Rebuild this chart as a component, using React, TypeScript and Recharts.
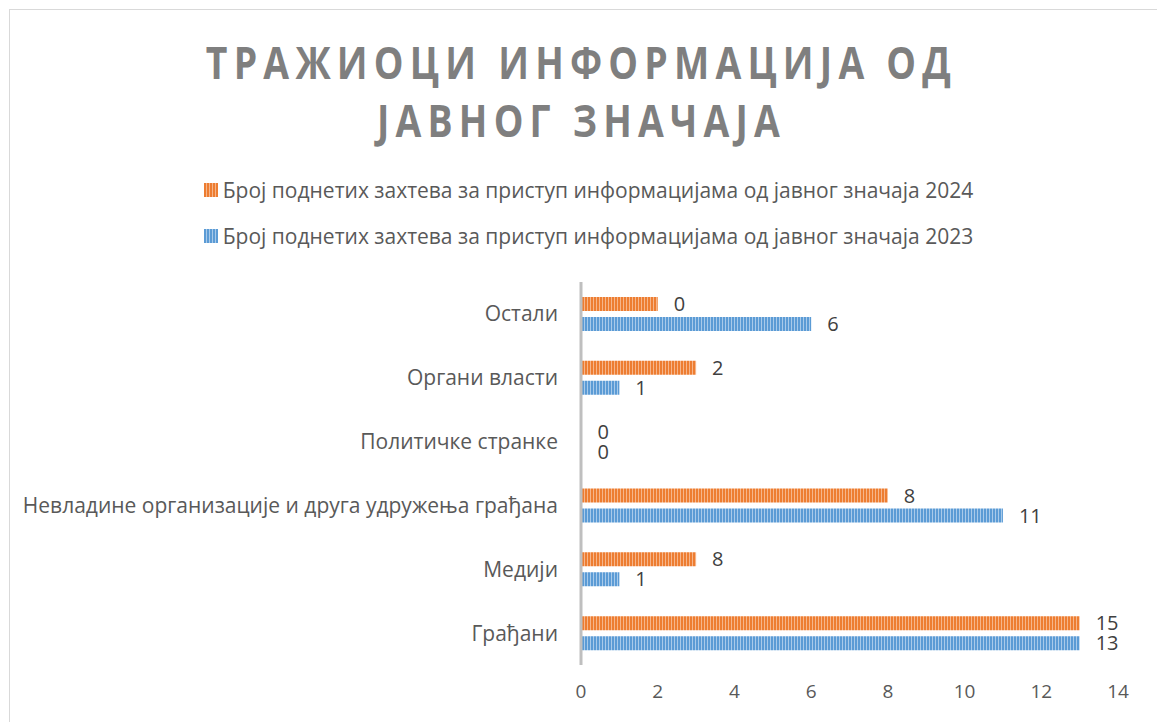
import { BarChart, Bar, XAxis, YAxis, LabelList } from 'recharts';

// categories from top to bottom, as in the picture
const categories = [
  'Остали',
  'Органи власти',
  'Политичке странке',
  'Невладине организације и друга удружења грађана',
  'Медији',
  'Грађани',
];
// bar lengths as drawn
const bars2024 = [2, 3, 0, 8, 3, 13];
const bars2023 = [6, 1, 0, 11, 1, 13];
// data labels as printed next to the bars
const labels2024 = ['0', '2', '0', '8', '8', '15'];
const labels2023 = ['6', '1', '0', '11', '1', '13'];
const xTicks = [0, 2, 4, 6, 8, 10, 12, 14];

const seriesNames = [
  'Број поднетих захтева за приступ информацијама од јавног значаја 2024',
  'Број поднетих захтева за приступ информацијама од јавног значаја 2023',
];

const FONT = '"Open Sans", sans-serif';
const ORANGE = '#ED7D31';
const ORANGE_LIGHT = '#F6B58A';
const BLUE = '#5B9BD5';
const BLUE_LIGHT = '#A8CAEA';

const chartData = categories.map((name, i) => ({
  name,
  v2024: bars2024[i],
  v2023: bars2023[i],
  l2024: labels2024[i],
  l2023: labels2023[i],
}));

function Swatch({ dark, light }: { dark: string; light: string }) {
  return (
    <svg width={14} height={14} style={{ marginRight: 5, flex: 'none' }}>
      {[0, 3, 6, 9, 12].map((x) => (
        <g key={x}>
          <rect x={x} y={0} width={3} height={14} fill={light} />
          <rect x={x} y={0} width={2} height={14} fill={dark} />
        </g>
      ))}
    </svg>
  );
}

function LegendBox() {
  const colors = [
    [ORANGE, ORANGE_LIGHT],
    [BLUE, BLUE_LIGHT],
  ];
  return (
    <div style={{ display: 'flex', flexDirection: 'column', alignItems: 'center' }}>
      {seriesNames.map((s, i) => (
        <div
          key={s}
          style={{ display: 'flex', alignItems: 'center', height: 46, fontFamily: FONT, fontSize: 21, color: '#595959' }}
        >
          <Swatch dark={colors[i][0]} light={colors[i][1]} />
          <span>{s}</span>
        </div>
      ))}
    </div>
  );
}

// title lines, squeezed a little so the letter spacing reads like the original
const titleLine = {
  paddingLeft: 7,
  transform: 'scaleX(0.85)',
  transformOrigin: '50% 50%',
};

export default function App() {
  return (
    <div style={{ position: 'absolute', left: 0, top: 0, width: 1157, height: 722, overflow: 'hidden', background: '#fff' }}>
      <div style={{ position: 'absolute', left: 9, top: 9, width: 1300, height: 900, border: '1px solid #D9D9D9' }} />
      <div
        style={{
          position: 'absolute',
          left: 0,
          top: 33,
          width: 1157,
          fontFamily: FONT,
          fontWeight: 700,
          fontSize: 44,
          lineHeight: '58px',
          letterSpacing: 7.3,
          color: '#7F7F7F',
          textAlign: 'center',
        }}
      >
        <div style={titleLine}>ТРАЖИОЦИ ИНФОРМАЦИЈА ОД</div>
        <div style={titleLine}>ЈАВНОГ ЗНАЧАЈА</div>
      </div>
      <div style={{ position: 'absolute', left: 10, top: 167, width: 1157 }}>
        <LegendBox />
      </div>
      <div style={{ position: 'absolute', left: 0, top: 0 }}>
        <BarChart
          width={1157}
          height={722}
          data={chartData}
          layout="vertical"
          margin={{ top: 282, right: 39, bottom: 17, left: 0 }}
          barSize={14}
          barGap={6}
        >
          <defs>
            <pattern id="stripe2024" width={3} height={10} patternUnits="userSpaceOnUse">
              <rect width={3} height={10} fill={ORANGE_LIGHT} />
              <rect width={2} height={10} fill={ORANGE} />
            </pattern>
            <pattern id="stripe2023" width={3} height={10} patternUnits="userSpaceOnUse">
              <rect width={3} height={10} fill={BLUE_LIGHT} />
              <rect width={2} height={10} fill={BLUE} />
            </pattern>
          </defs>
          <XAxis
            type="number"
            domain={[0, 14]}
            ticks={xTicks}
            axisLine={false}
            tickLine={false}
            tickMargin={14}
            height={40}
            tick={{ fill: '#595959', fontSize: 19, fontFamily: FONT }}
          />
          <Bar dataKey="v2024" name={seriesNames[0]} fill="url(#stripe2024)" minPointSize={0.5} isAnimationActive={false}>
            <LabelList dataKey="l2024" position="right" offset={16} fill="#404040" fontSize={20} fontFamily={FONT} />
          </Bar>
          <Bar dataKey="v2023" name={seriesNames[1]} fill="url(#stripe2023)" minPointSize={0.5} isAnimationActive={false}>
            <LabelList dataKey="l2023" position="right" offset={16} fill="#404040" fontSize={20} fontFamily={FONT} />
          </Bar>
          <YAxis
            type="category"
            dataKey="name"
            width={581}
            axisLine={{ stroke: '#BFBFBF', strokeWidth: 3 }}
            tickLine={false}
            tickMargin={17}
            interval={0}
            tick={{ fill: '#595959', fontSize: 21, fontFamily: FONT }}
          />
        </BarChart>
      </div>
    </div>
  );
}
